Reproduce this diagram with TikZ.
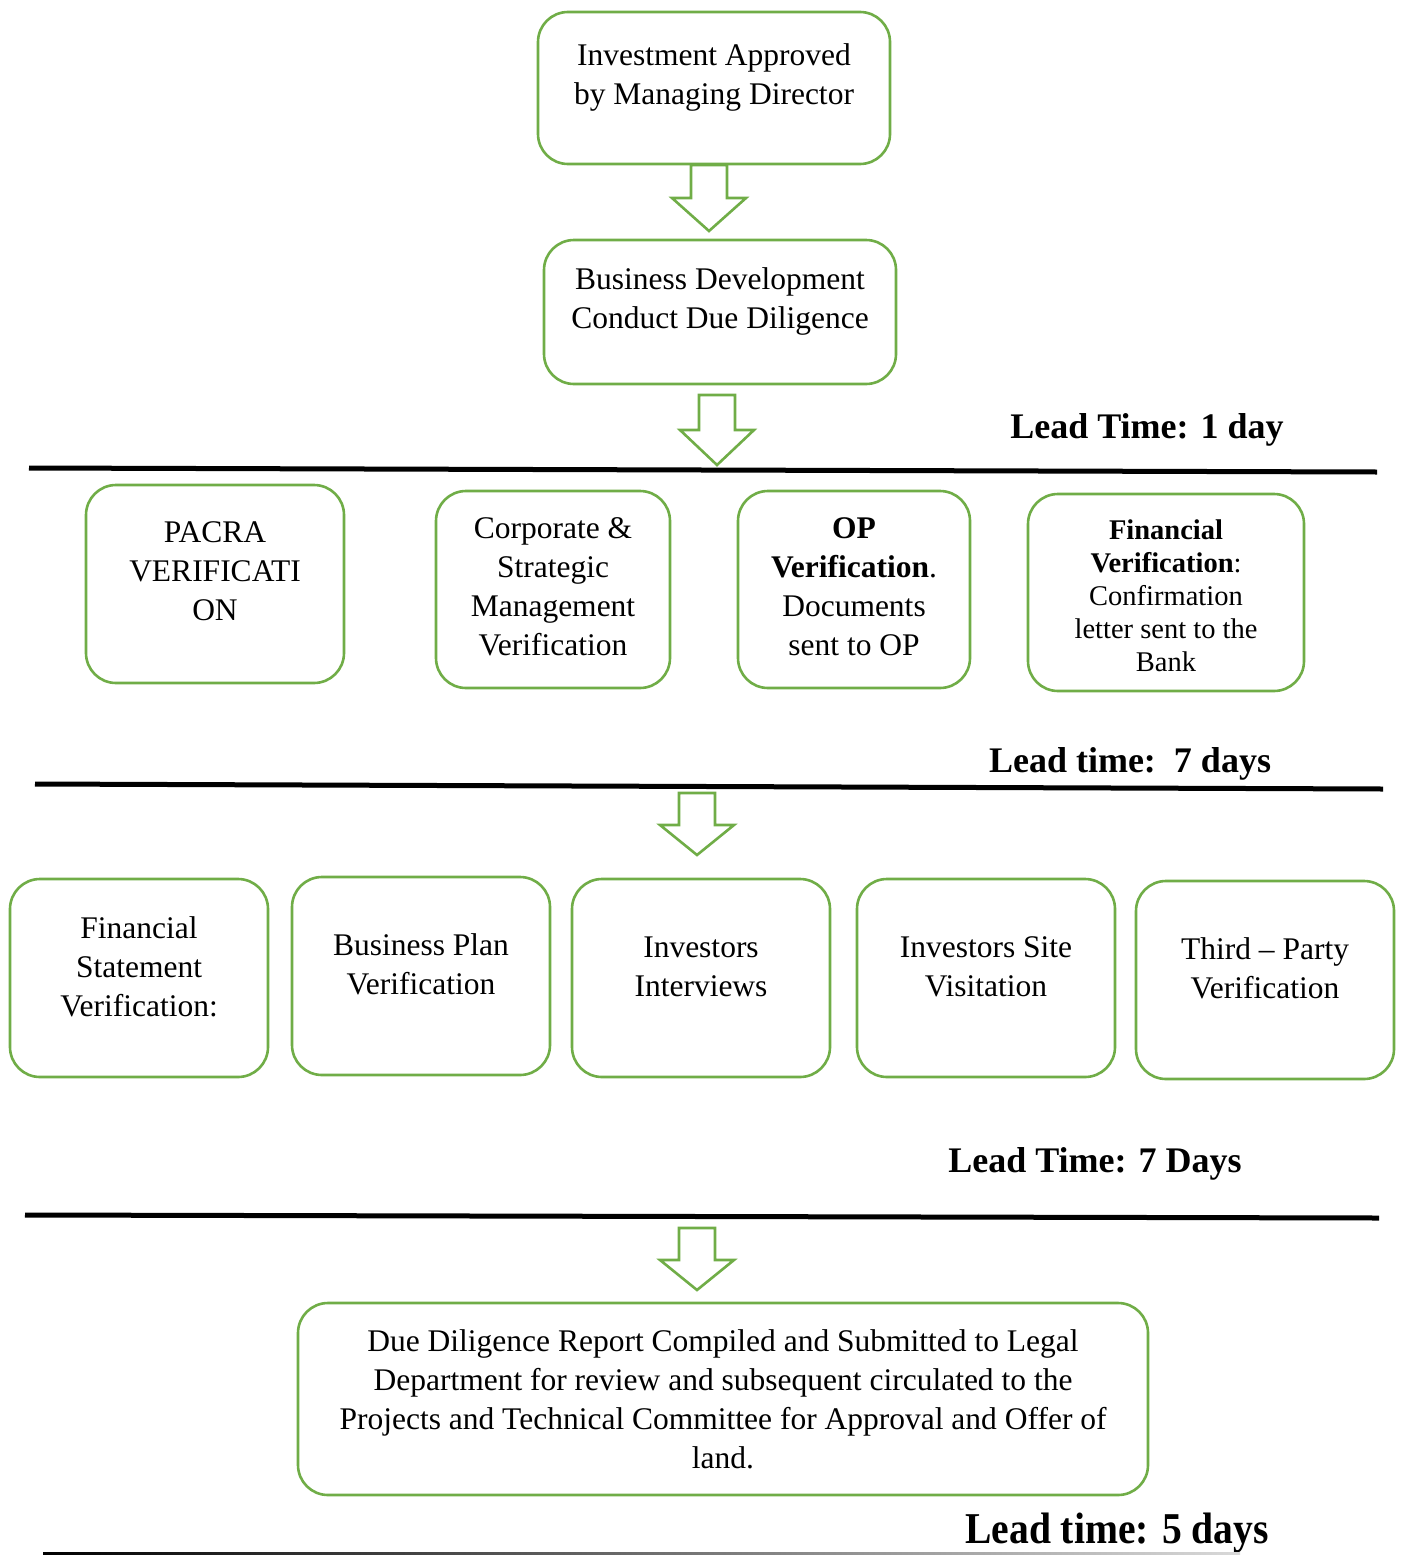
\documentclass[tikz,border=0pt]{standalone}
\usepackage{fontspec}
\setmainfont{Liberation Serif}
\definecolor{grn}{HTML}{70AD47}
\newcommand{\blockarrow}[4]{% x, ytop, yheadstart, ytip
  \draw[barrow] (#1-18,#2) -- (#1+18,#2) -- (#1+18,#3) -- (#1+37,#3) -- (#1,#4) -- (#1-37,#3) -- (#1-18,#3) -- cycle;}
\begin{document}
\begin{tikzpicture}[x=1pt,y=-1pt,
  box/.style={draw=grn, line width=2.6pt, rounded corners=30pt, fill=white},
  txt/.style={align=center, font=\fontsize{31.5}{39}\selectfont},
  small/.style={align=center, font=\fontsize{28.5}{33}\selectfont},
  lead/.style={font=\fontsize{36}{40}\selectfont\bfseries},
  barrow/.style={draw=grn, line width=2.6pt, fill=white, line join=miter},
  rule/.style={line width=5pt, black}]
\useasboundingbox (0,0) rectangle (1404,1555);

% top boxes
\node[box, minimum width=352pt, minimum height=152pt] (b1) at (714,88) {};
\node[txt] (b1t) at (714,77) {Investment Approved\\by Managing Director};
\node[box, minimum width=352pt, minimum height=144pt] (b2) at (720,312) {};
\node[txt] (b2t) at (720,301) {Business Development\\Conduct Due Diligence};

\blockarrow{709}{165}{198}{231}
\blockarrow{717}{395}{430}{465}

\node[lead] (l1) at (1147,430) {Lead Time: 1 day};
\draw[rule] (29,468) coordinate (r1a) -- (1377,472) coordinate (r1b);

% row 1
\node[box, minimum width=258pt, minimum height=198pt] (b3) at (215,584) {};
\node[txt] (b3t) at (215,571) {PACRA\\VERIFICATI\\ON};
\node[box, minimum width=234pt, minimum height=197pt] (b4) at (553,589.5) {};
\node[txt] (b4t) at (553,587) {Corporate \&\\Strategic\\Management\\Verification};
\node[box, minimum width=232pt, minimum height=197pt] (b5) at (854,589.5) {};
\node[txt] (b5t) at (854,587) {\textbf{OP}\\\textbf{Verification}.\\Documents\\sent to OP};
\node[box, minimum width=276pt, minimum height=197pt] (b6) at (1166,592.5) {};
\node[small] (b6t) at (1166,596) {\textbf{Financial}\\\textbf{Verification}:\\Confirmation\\letter sent to the\\Bank};

\node[lead] (l2) at (1130,764) {Lead time:\ \ 7 days};
\draw[rule] (35,784) coordinate (r2a) -- (1383,789) coordinate (r2b);

\blockarrow{697}{793}{825}{855}

% row 2
\node[box, minimum width=258pt, minimum height=198pt] (b7) at (139,978) {};
\node[txt] (b7t) at (139,966.5) {Financial\\Statement\\Verification:};
\node[box, minimum width=258pt, minimum height=198pt] (b8) at (421,976) {};
\node[txt] (b8t) at (421,964.5) {Business Plan\\Verification};
\node[box, minimum width=258pt, minimum height=198pt] (b9) at (701,978) {};
\node[txt] (b9t) at (701,966.5) {Investors\\Interviews};
\node[box, minimum width=258pt, minimum height=198pt] (b10) at (986,978) {};
\node[txt] (b10t) at (986,966.5) {Investors Site\\Visitation};
\node[box, minimum width=258pt, minimum height=198pt] (b11) at (1265,980) {};
\node[txt] (b11t) at (1265,968.5) {Third -- Party\\Verification};

\node[lead] (l3) at (1095,1164) {Lead Time: 7 Days};
\draw[rule] (25,1215) coordinate (r3a) -- (1379,1218) coordinate (r3b);

\blockarrow{697}{1228}{1260}{1290}

\node[box, minimum width=850pt, minimum height=192pt] (b12) at (723,1399) {};
\node[txt] (b12t) at (723,1399.5) {Due Diligence Report Compiled and Submitted to Legal\\Department for review and subsequent circulated to the\\Projects and Technical Committee for Approval and Offer of\\land.};

\node[font=\fontsize{44}{46}\selectfont\bfseries, xscale=0.9, transform shape] (l4) at (1117,1533) {Lead time: 5 days};
\shade[left color=black, right color=gray!30] (43,1552) rectangle (1240,1554.5);
\end{tikzpicture}
\end{document}
